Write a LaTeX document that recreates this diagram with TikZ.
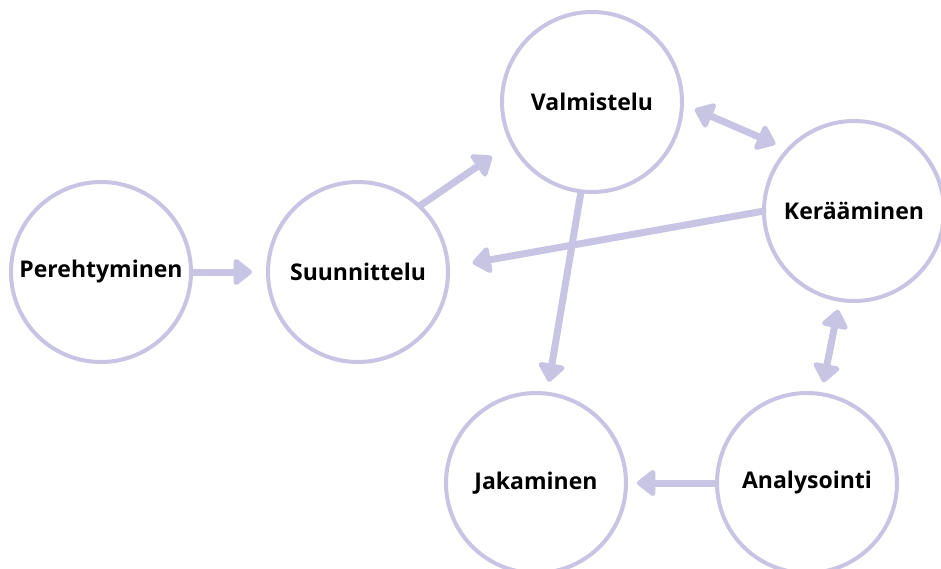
\documentclass[tikz,border=0pt]{standalone}
\usepackage{fontspec}
\setmainfont{Open Sans}
\usetikzlibrary{arrows.meta}
\definecolor{lilac}{RGB}{200,196,228}
\begin{document}
\begin{tikzpicture}[x=1pt, y=-1pt,
  stage/.style={circle, draw=lilac, line width=4pt, fill=white, minimum size=180pt,
    inner sep=0pt, outer sep=0pt, font=\fontsize{23}{27}\selectfont\bfseries},
  flow/.style={draw=lilac, line width=7pt, -{Triangle[length=20pt,width=30pt,round]}},
  both/.style={flow, {Triangle[length=20pt,width=30pt,round]}-{Triangle[length=20pt,width=30pt,round]}}]
        \useasboundingbox (0,0) rectangle (941,568);                  %
        \node [stage] (pere) at (101,272) {Perehtyminen};             %
        \node [stage] (suun) at (358,272) {Suunnittelu};              %
        \node [stage] (valm) at (592,102) {Valmistelu};               %
        \node [stage] (ker)  at (854,211) {Kerääminen};               %
        \node [stage] (jak)  at (536,483) {Jakaminen};                %
        \node [stage] (ana)  at (807,483) {Analysointi};              %
        \draw [flow, shorten >=16pt] (pere.east) -- (suun.west);      %
        \draw [flow, shorten >=24pt] (suun.47) -- (valm.207.5);       %
        \draw [both, shorten <=14pt, shorten >=14pt] (valm.-1.5) -- (ker.137.7);
        \draw [flow, shorten >=25pt] (ker.180) -- (suun.3.6);         %
        \draw [flow, shorten >=12pt] (valm.-97.6) -- (jak.83.6);      %
        \draw [both, shorten <=10pt, shorten >=12pt] (ker.-99.6) -- (ana.81.9);
        \draw [flow, shorten >=11pt] (ana.west) -- (jak.east);        %
\end{tikzpicture}
\end{document}
